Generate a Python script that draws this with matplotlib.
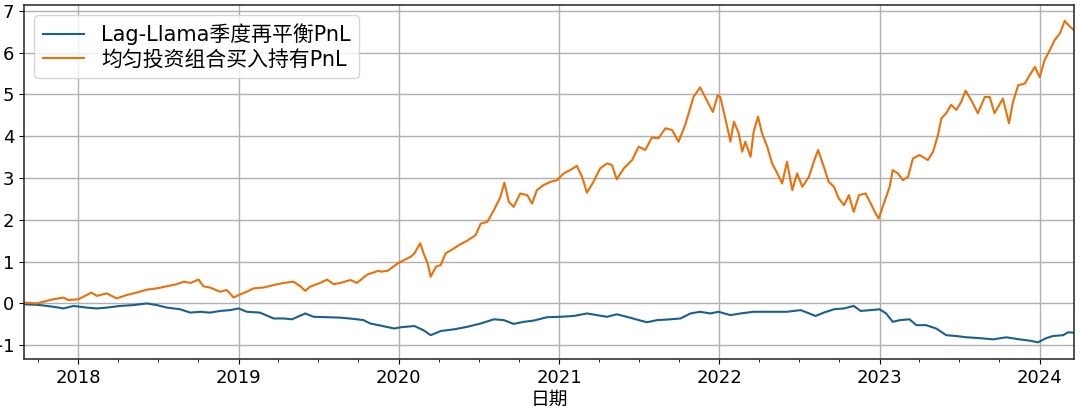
import matplotlib
matplotlib.use("Agg")
import matplotlib.pyplot as plt
import matplotlib.dates as mdates
import pandas as pd

plt.rcParams['font.family'] = ['DejaVu Sans', 'Noto Sans CJK SC']

# 均匀投资组合买入持有
bh_dates = [
    "2017-08-30", "2017-09-28", "2017-11-05", "2017-11-28", "2017-12-09", "2018-01-01",
    "2018-01-20", "2018-01-31", "2018-02-12", "2018-03-07", "2018-03-29", "2018-04-21",
    "2018-05-14", "2018-06-06", "2018-06-29", "2018-07-22", "2018-08-13", "2018-08-29",
    "2018-09-13", "2018-10-02", "2018-10-13", "2018-10-28", "2018-11-20", "2018-12-05",
    "2018-12-21", "2019-01-01", "2019-01-20", "2019-02-04", "2019-02-27", "2019-03-22",
    "2019-04-14", "2019-05-06", "2019-05-22", "2019-06-02", "2019-06-13", "2019-07-06",
    "2019-07-22", "2019-08-06", "2019-08-21", "2019-09-13", "2019-09-28", "2019-10-21",
    "2019-11-16", "2019-11-22", "2019-12-07", "2019-12-30", "2020-01-14", "2020-01-29",
    "2020-02-06", "2020-02-19", "2020-02-28", "2020-03-07", "2020-03-14", "2020-03-26",
    "2020-04-06", "2020-04-17", "2020-05-02", "2020-05-18", "2020-06-05", "2020-06-24",
    "2020-07-06", "2020-07-21", "2020-08-05", "2020-08-20", "2020-08-29", "2020-09-08",
    "2020-09-19", "2020-10-04", "2020-10-20", "2020-10-31", "2020-11-11", "2020-11-26",
    "2020-12-12", "2020-12-27", "2021-01-11", "2021-01-26", "2021-02-10", "2021-02-22",
    "2021-03-05", "2021-03-20", "2021-04-04", "2021-04-20", "2021-05-01", "2021-05-12",
    "2021-05-28", "2021-06-16", "2021-07-01", "2021-07-16", "2021-07-31", "2021-08-15",
    "2021-08-31", "2021-09-15", "2021-09-30", "2021-10-15", "2021-11-03", "2021-11-18",
    "2021-12-03", "2021-12-17", "2021-12-28", "2022-01-03", "2022-01-11", "2022-01-22",
    "2022-01-26", "2022-02-03", "2022-02-14", "2022-02-22", "2022-03-01", "2022-03-13",
    "2022-03-20", "2022-03-30", "2022-04-08", "2022-04-20", "2022-05-01", "2022-05-13",
    "2022-05-24", "2022-06-04", "2022-06-16", "2022-06-27", "2022-07-09", "2022-07-24",
    "2022-08-04", "2022-08-14", "2022-08-27", "2022-09-07", "2022-09-19", "2022-09-30",
    "2022-10-12", "2022-10-23", "2022-11-03", "2022-11-15", "2022-11-30", "2022-12-12",
    "2022-12-23", "2022-12-30", "2023-01-12", "2023-01-24", "2023-01-31", "2023-02-12",
    "2023-02-23", "2023-03-07", "2023-03-18", "2023-04-02", "2023-04-21", "2023-05-03",
    "2023-05-14", "2023-05-22", "2023-06-02", "2023-06-13", "2023-06-25", "2023-07-06",
    "2023-07-16", "2023-07-29", "2023-08-13", "2023-08-29", "2023-09-09", "2023-09-20",
    "2023-10-09", "2023-10-23", "2023-11-01", "2023-11-13", "2023-11-28", "2023-12-09",
    "2023-12-21", "2024-01-01", "2024-01-12", "2024-01-24", "2024-02-04", "2024-02-16",
    "2024-02-27", "2024-03-10", "2024-03-19",
]
bh_pnl = [
    0.02, 0.00, 0.10, 0.14, 0.08, 0.10,
    0.20, 0.26, 0.18, 0.24, 0.12, 0.20,
    0.26, 0.33, 0.36, 0.41, 0.46, 0.52,
    0.49, 0.57, 0.41, 0.38, 0.28, 0.32,
    0.14, 0.20, 0.28, 0.36, 0.38, 0.44,
    0.49, 0.52, 0.41, 0.30, 0.40, 0.49,
    0.57, 0.46, 0.49, 0.56, 0.49, 0.69,
    0.78, 0.76, 0.78, 0.96, 1.04, 1.12,
    1.20, 1.44, 1.16, 0.96, 0.64, 0.88,
    0.92, 1.20, 1.29, 1.40, 1.50, 1.63,
    1.91, 1.95, 2.23, 2.55, 2.89, 2.43,
    2.31, 2.63, 2.59, 2.39, 2.71, 2.83,
    2.91, 2.95, 3.11, 3.19, 3.29, 3.03,
    2.65, 2.91, 3.23, 3.35, 3.31, 2.97,
    3.23, 3.43, 3.75, 3.67, 3.97, 3.95,
    4.19, 4.15, 3.87, 4.27, 4.94, 5.17,
    4.86, 4.58, 4.98, 4.94, 4.58, 4.07,
    3.87, 4.35, 4.07, 3.63, 3.87, 3.51,
    4.11, 4.47, 4.07, 3.75, 3.35, 3.11,
    2.87, 3.39, 2.71, 3.11, 2.79, 3.03,
    3.39, 3.67, 3.27, 2.91, 2.79, 2.51,
    2.35, 2.59, 2.19, 2.59, 2.63, 2.39,
    2.15, 2.03, 2.43, 2.79, 3.19, 3.11,
    2.95, 3.03, 3.47, 3.55, 3.43, 3.63,
    4.03, 4.43, 4.55, 4.75, 4.63, 4.82,
    5.09, 4.86, 4.55, 4.94, 4.94, 4.55,
    4.90, 4.31, 4.82, 5.22, 5.26, 5.46,
    5.66, 5.41, 5.82, 6.06, 6.30, 6.46,
    6.76, 6.62, 6.54,
]

# Lag-Llama 季度再平衡
ll_dates = [
    "2017-08-30", "2017-10-06", "2017-11-05", "2017-11-28", "2017-12-21", "2018-01-20",
    "2018-02-12", "2018-03-07", "2018-04-06", "2018-05-06", "2018-06-06", "2018-06-29",
    "2018-07-22", "2018-08-21", "2018-09-13", "2018-10-06", "2018-10-28", "2018-11-20",
    "2018-12-13", "2019-01-01", "2019-01-20", "2019-02-19", "2019-03-22", "2019-04-14",
    "2019-05-03", "2019-06-02", "2019-06-21", "2019-07-22", "2019-08-21", "2019-09-20",
    "2019-10-13", "2019-10-28", "2019-11-16", "2019-12-22", "2020-01-06", "2020-02-06",
    "2020-02-28", "2020-03-14", "2020-04-06", "2020-05-06", "2020-06-05", "2020-07-06",
    "2020-08-05", "2020-08-28", "2020-09-19", "2020-10-12", "2020-11-04", "2020-12-04",
    "2021-01-03", "2021-02-03", "2021-03-05", "2021-03-28", "2021-04-20", "2021-05-12",
    "2021-06-04", "2021-07-05", "2021-07-20", "2021-08-12", "2021-09-11", "2021-10-04",
    "2021-10-27", "2021-11-18", "2021-12-11", "2021-12-30", "2022-01-26", "2022-02-18",
    "2022-03-20", "2022-04-20", "2022-06-04", "2022-07-05", "2022-07-20", "2022-08-08",
    "2022-08-27", "2022-09-19", "2022-10-12", "2022-11-03", "2022-11-19", "2022-12-12",
    "2023-01-01", "2023-01-16", "2023-01-31", "2023-02-16", "2023-03-10", "2023-03-26",
    "2023-04-17", "2023-05-10", "2023-06-02", "2023-06-25", "2023-07-18", "2023-08-17",
    "2023-09-17", "2023-10-17", "2023-11-16", "2023-12-09", "2023-12-28", "2024-01-16",
    "2024-01-31", "2024-02-23", "2024-03-06", "2024-03-19",
]
ll_pnl = [
    -0.02, -0.04, -0.08, -0.12, -0.06, -0.10,
    -0.12, -0.10, -0.06, -0.04, 0.00, -0.04,
    -0.10, -0.14, -0.22, -0.20, -0.22, -0.18,
    -0.16, -0.12, -0.20, -0.22, -0.36, -0.36,
    -0.38, -0.24, -0.32, -0.33, -0.34, -0.37,
    -0.40, -0.48, -0.52, -0.60, -0.57, -0.54,
    -0.65, -0.76, -0.66, -0.62, -0.56, -0.48,
    -0.38, -0.40, -0.49, -0.44, -0.41, -0.33,
    -0.32, -0.30, -0.24, -0.28, -0.32, -0.26,
    -0.32, -0.41, -0.45, -0.40, -0.38, -0.36,
    -0.24, -0.20, -0.24, -0.20, -0.28, -0.24,
    -0.20, -0.20, -0.20, -0.16, -0.22, -0.30,
    -0.22, -0.14, -0.12, -0.06, -0.18, -0.16,
    -0.14, -0.24, -0.44, -0.40, -0.38, -0.52,
    -0.52, -0.60, -0.76, -0.78, -0.81, -0.83,
    -0.86, -0.81, -0.86, -0.89, -0.93, -0.83,
    -0.78, -0.76, -0.69, -0.70,
]

bh = pd.Series(bh_pnl, index=pd.to_datetime(bh_dates))
ll = pd.Series(ll_pnl, index=pd.to_datetime(ll_dates))

fig = plt.figure(figsize=(10.8, 4.12), dpi=100)
ax = fig.add_axes([0.0222, 0.1286, 0.9722, 0.8593])

ax.plot(ll.index, ll.values, color='#1b5f8e', lw=1.5, label='Lag-Llama季度再平衡PnL')
ax.plot(bh.index, bh.values, color='#e8710a', lw=1.5, label='均匀投资组合买入持有PnL')

ax.set_xlim(bh.index[0], bh.index[-1])
ax.set_ylim(-1.33, 7.14)
ax.set_yticks(range(-1, 8))

ax.xaxis.set_major_locator(mdates.YearLocator())
ax.xaxis.set_major_formatter(mdates.DateFormatter('%Y'))
ax.xaxis.set_minor_locator(mdates.MonthLocator(bymonth=[1, 4, 7, 10]))

ax.tick_params(labelsize=13)
ax.grid(True, which='major', color='#b0b0b0', lw=1.0)
for s in ax.spines.values():
    s.set_linewidth(1.2)
    s.set_color('#333333')

ax.set_xlabel('日期', fontsize=13.5, labelpad=2)
ax.legend(loc='upper left', fontsize=15, labelspacing=0.2, borderaxespad=0.5)

fig.savefig('out.png', dpi=100)
